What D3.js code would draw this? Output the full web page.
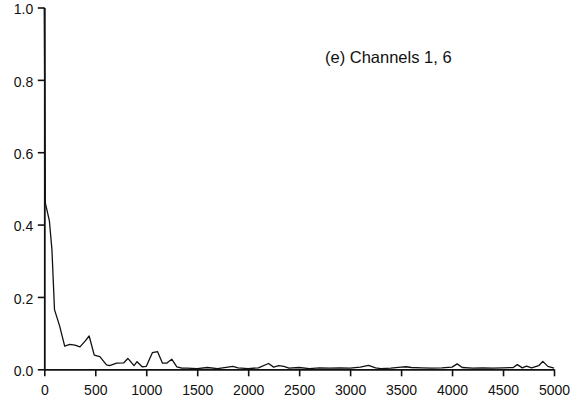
<!DOCTYPE html>
<html>
<head>
<meta charset="utf-8">
<script src="https://cdn.jsdelivr.net/npm/d3@7"></script>
<style>
  html, body { margin: 0; padding: 0; background: #fff; }
  svg { display: block; }
  text { font-family: "Liberation Sans", Arial, Helvetica, sans-serif; fill: #111; }
</style>
</head>
<body>
<svg id="chart" width="580" height="403"></svg>
<script>
// ---- data ----
const lags = [0, 10, 50, 75, 100, 150, 200, 250, 300, 350, 400, 440, 490, 545, 610, 640, 710, 780, 820, 880, 910, 960, 1000,
  1060, 1110, 1160, 1200, 1250, 1300, 1350, 1400, 1500, 1600, 1700, 1800, 1850, 1900, 2000, 2100, 2200, 2250, 2300, 2350,
  2400, 2500, 2600, 2700, 2800, 2900, 3000, 3100, 3180, 3250, 3300, 3400, 3500, 3550, 3600, 3700, 3800, 3900, 4000, 4050,
  4100, 4200, 4300, 4400, 4500, 4600, 4640, 4690, 4730, 4780, 4850, 4890, 4940, 5000];
const values = [1.0, 0.46, 0.41, 0.33, 0.165, 0.12, 0.064, 0.069, 0.067, 0.062, 0.078, 0.092, 0.039, 0.035, 0.012, 0.010, 0.017, 0.018, 0.030, 0.010, 0.021, 0.007, 0.008,
  0.046, 0.049, 0.017, 0.017, 0.028, 0.007, 0.003, 0.003, 0.002, 0.005, 0.002, 0.006, 0.008, 0.004, 0.002, 0.004, 0.016, 0.006, 0.010, 0.008,
  0.003, 0.005, 0.002, 0.004, 0.003, 0.004, 0.003, 0.006, 0.011, 0.004, 0.002, 0.003, 0.006, 0.007, 0.005, 0.004, 0.003, 0.004, 0.006, 0.015,
  0.005, 0.003, 0.004, 0.003, 0.004, 0.005, 0.013, 0.004, 0.009, 0.004, 0.010, 0.022, 0.008, 0.003];
const xTicks = [0, 500, 1000, 1500, 2000, 2500, 3000, 3500, 4000, 4500, 5000];
const yTicks = [0.0, 0.2, 0.4, 0.6, 0.8, 1.0];
const label = "(e) Channels 1, 6";

// ---- layout ----
const svg = d3.select("#chart");
const x = d3.scaleLinear().domain([0, 5000]).range([44.3, 554]);
const y = d3.scaleLinear().domain([0, 1]).range([369.3, 7.5]);

// line
const line = d3.line().x((d, i) => x(lags[i])).y((d, i) => y(values[i]));
svg.append("path")
  .datum(values)
  .attr("d", line)
  .attr("fill", "none")
  .attr("stroke", "#111")
  .attr("stroke-width", 1.3)
  .attr("stroke-linejoin", "round");

// x axis
const xAxis = svg.append("g")
  .attr("transform", `translate(0,${y(0)})`)
  .call(d3.axisBottom(x).tickValues(xTicks).tickFormat(d3.format("d")).tickSize(7).tickSizeOuter(0).tickPadding(9));
// y axis
const yAxis = svg.append("g")
  .attr("transform", `translate(${x(0)},0)`)
  .call(d3.axisLeft(y).tickValues(yTicks).tickFormat(d3.format(".1f")).tickSize(6.5).tickSizeOuter(0).tickPadding(4.5));

[xAxis, yAxis].forEach(g => {
  g.select(".domain").attr("stroke", "#111").attr("stroke-width", 1.8);
  g.selectAll(".tick line").attr("stroke", "#111").attr("stroke-width", 1.6);
  g.selectAll(".tick text").attr("font-size", 14).attr("fill", "#111")
    .style("font-family", "'Liberation Sans', Arial, sans-serif");
});
yAxis.selectAll(".tick text").attr("dy", "0.45em");

// annotation
svg.append("text")
  .attr("x", 325)
  .attr("y", 63)
  .attr("font-size", 16.5)
  .text(label);
</script>
</body>
</html>
